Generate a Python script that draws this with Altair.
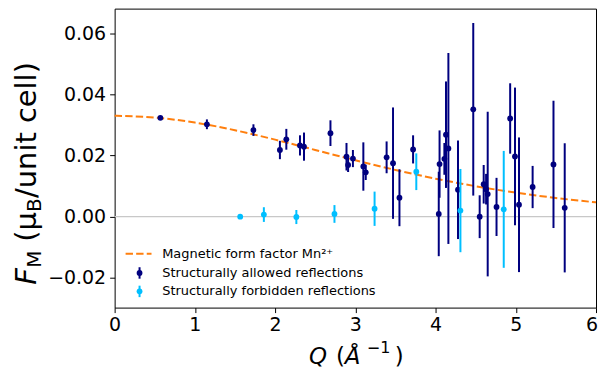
import altair as alt
import pandas as pd

# ---------------- data ----------------
q_allowed = [0.57, 1.15, 1.73, 2.06, 2.14, 2.31, 2.36, 2.69, 2.89, 2.91,
             2.97, 3.10, 3.13, 3.39, 3.47, 3.55, 3.72, 4.04, 4.05, 4.11,
             4.13, 4.16, 4.28, 4.47, 4.55, 4.60, 4.63, 4.65, 4.76, 4.93,
             4.99, 5.04, 5.21, 5.47, 5.61]
f_allowed = [0.0323, 0.0302, 0.0283, 0.0218, 0.0253, 0.0233, 0.0229, 0.0273, 0.0196, 0.0169,
             0.0190, 0.0164, 0.0145, 0.0194, 0.0175, 0.0062, 0.0220, 0.0009, 0.0172, 0.0189,
             0.0268, 0.0223, 0.0088, 0.0351, 0.0000, 0.0106, 0.0090, 0.0074, 0.0032, 0.0321,
             0.0197, 0.0039, 0.0097, 0.0171, 0.0029]
e_allowed = [0.0006, 0.0016, 0.0019, 0.0030, 0.0034, 0.0033, 0.0046, 0.0042, 0.0045, 0.0023,
             0.0028, 0.0079, 0.0025, 0.0052, 0.0182, 0.0093, 0.0046, 0.0138, 0.0110, 0.0052,
             0.0174, 0.0312, 0.0161, 0.0282, 0.0070, 0.0063, 0.0050, 0.0269, 0.0095, 0.0115,
             0.0225, 0.0220, 0.0069, 0.0208, 0.0211]

q_forbidden = [1.565, 1.86, 2.265, 2.74, 3.24, 3.76, 4.31, 4.85]
f_forbidden = [0.0000, 0.0007, -0.0001, 0.0009, 0.0026, 0.0147, 0.0020, 0.0024]
e_forbidden = [0.0002, 0.0024, 0.0023, 0.0029, 0.0056, 0.0060, 0.0136, 0.0191]

q_curve = [0.0, 0.5, 1.0, 1.5, 2.0, 2.5, 3.0, 3.5, 4.0, 4.5, 5.0, 5.5, 6.0]
f_curve = [0.03297, 0.03240, 0.03077, 0.02826, 0.02518, 0.02181, 0.01845,
           0.01528, 0.01243, 0.00996, 0.00787, 0.00612, 0.00468]

x_ticks = [0, 1, 2, 3, 4, 5, 6]
y_ticks = [-0.02, 0.0, 0.02, 0.04, 0.06]

legend_labels = ["Magnetic form factor Mn\u00b2\u207a",
                 "Structurally allowed reflections",
                 "Structurally forbidden reflections"]

NAVY = "#00007f"
SKY = "#00bfff"
ORANGE = "#ff7f0e"
FONT = "DejaVu Sans"

W, H = 483, 300

allowed = pd.DataFrame({"q": q_allowed, "f": f_allowed, "e": e_allowed})
forbidden = pd.DataFrame({"q": q_forbidden, "f": f_forbidden, "e": e_forbidden})
curve = pd.DataFrame({"q": q_curve, "f": f_curve})
zero = pd.DataFrame({"f": [0.0]})
one = pd.DataFrame({"a": [0]})
last_tick = pd.DataFrame({"q": [x_ticks[-1]], "t": [str(x_ticks[-1])]})

xscale = alt.Scale(domain=[0, 6], nice=False, zero=False)
yscale = alt.Scale(domain=[-0.0297, 0.068], nice=False, zero=False)

# the last x label is drawn separately (right-aligned) so it is not cut at the page edge
xaxis = alt.Axis(values=x_ticks, format="d", title=None, grid=False, domain=False,
                 tickSize=5, tickColor="#000", tickWidth=1, labelFontSize=19,
                 labelColor="#000", labelFont=FONT, labelPadding=3, labelFlush=False,
                 labelExpr="datum.value == 6 ? '' : datum.label")
yaxis = alt.Axis(values=y_ticks, format=".2f", title=None, grid=False, domain=False,
                 tickSize=5, tickColor="#000", tickWidth=1, labelFontSize=19,
                 labelColor="#000", labelFont=FONT, labelPadding=4, labelFlush=False)

X = alt.X("q:Q", scale=xscale, axis=xaxis)
Y = alt.Y("f:Q", scale=yscale, axis=yaxis)

zero_line = alt.Chart(zero).mark_rule(color="#c8c8c8", strokeWidth=1.2).encode(
    y=alt.Y("f:Q", scale=yscale, axis=yaxis))

curve_line = alt.Chart(curve).mark_line(
    color=ORANGE, strokeWidth=2, strokeDash=[7.4, 3.2], interpolate="monotone").encode(x=X, y=Y)

last_label = alt.Chart(last_tick).mark_text(
    font=FONT, fontSize=19, color="#000", align="right", baseline="top", dx=2
).encode(x=X, y=alt.value(H + 8), text="t:N")


def errbars(df, color):
    bars = alt.Chart(df).transform_calculate(
        lo="datum.f - datum.e", hi="datum.f + datum.e"
    ).mark_rule(color=color, strokeWidth=2).encode(
        x=X, y=alt.Y("lo:Q", scale=yscale, axis=yaxis), y2="hi:Q")
    pts = alt.Chart(df).mark_circle(color=color, opacity=1, size=34).encode(x=X, y=Y)
    return bars + pts


def txt(s, x, y, size, italic=False, angle=0, baseline="alphabetic"):
    kw = dict(text=s, font=FONT, fontSize=size, color="#000", align="left",
              baseline=baseline, angle=angle)
    if italic:
        kw["fontStyle"] = "italic"
    return alt.Chart(one).mark_text(**kw).encode(x=alt.value(x), y=alt.value(y))


# legend (drawn inside the plot area)
leg = [
    alt.Chart(one).mark_rule(color=ORANGE, strokeWidth=2, strokeDash=[7.4, 3.2]).encode(
        x=alt.value(11), x2=alt.value(37), y=alt.value(246)),
    alt.Chart(one).mark_rule(color=NAVY, strokeWidth=2).encode(
        x=alt.value(25), y=alt.value(259.5), y2=alt.value(271)),
    alt.Chart(one).mark_circle(color=NAVY, opacity=1, size=34).encode(
        x=alt.value(25), y=alt.value(265.3)),
    alt.Chart(one).mark_rule(color=SKY, strokeWidth=2).encode(
        x=alt.value(25), y=alt.value(278), y2=alt.value(289.5)),
    alt.Chart(one).mark_circle(color=SKY, opacity=1, size=34).encode(
        x=alt.value(25), y=alt.value(283.7)),
    txt(legend_labels[0], 47.7, 246, 13, baseline="middle"),
    txt(legend_labels[1], 47.7, 265.3, 13, baseline="middle"),
    txt(legend_labels[2], 47.7, 283.7, 13, baseline="middle"),
]

# y title: F_M (mu_B/unit cell), rotated
ytitle = [
    txt("F", -79, 277, 29, italic=True, angle=270),
    txt("M", -74, 260, 20, angle=270),
    txt("(\u03bc", -79, 234, 29, angle=270),
    txt("B", -74, 204, 20, angle=270),
    txt("/unit cell)", -79, 190, 29, angle=270),
]

# x title: Q (Å^-1)
xtitle = [
    txt("Q", 195, 357, 23, italic=True),
    txt("(", 222, 357, 23),
    txt("\u00c5", 231, 357, 23, italic=True),
    txt("\u22121", 253, 346, 16),
    txt(")", 281, 357, 23),
]

chart = alt.layer(
    zero_line, curve_line,
    errbars(allowed, NAVY), errbars(forbidden, SKY),
    last_label,
    *leg, *ytitle, *xtitle
).properties(
    width=W, height=H,
    padding={"left": 107, "top": 0, "right": 2, "bottom": 62},
    autosize=alt.AutoSizeParams(type="none"),
).configure_view(stroke="#000", strokeWidth=1)

chart.save("out.html", embed_options={"renderer": "svg", "actions": False})
